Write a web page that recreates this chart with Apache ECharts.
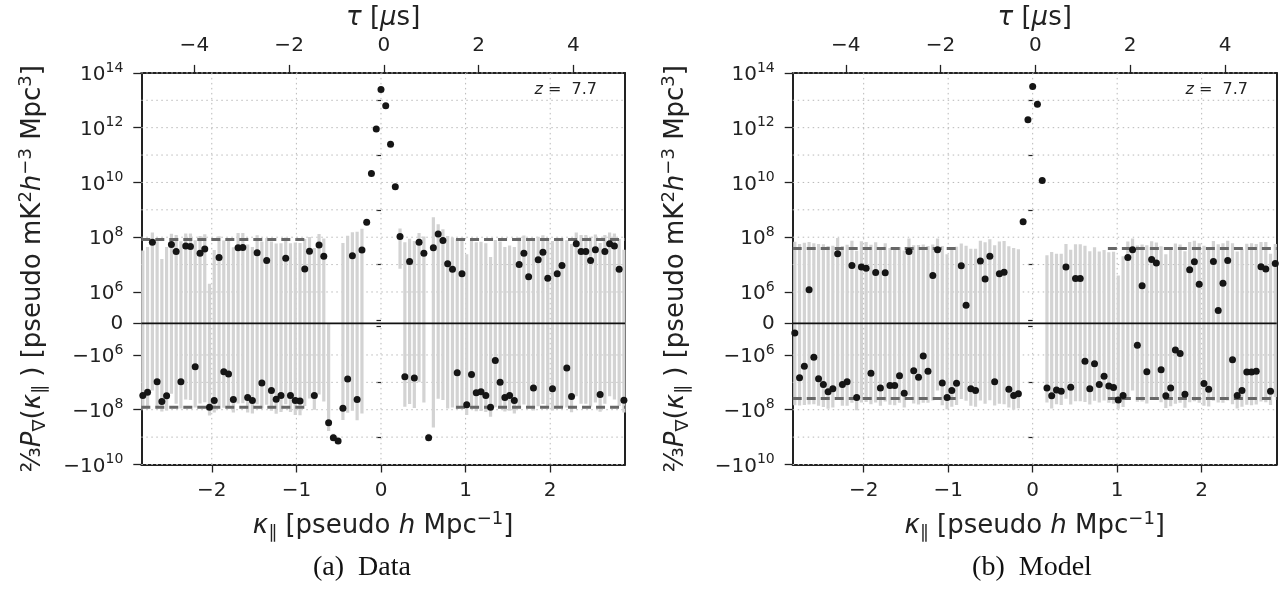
<!DOCTYPE html>
<html><head><meta charset="utf-8">
<script src="https://cdn.jsdelivr.net/npm/echarts@6/dist/echarts.min.js"></script>
<style>html,body{margin:0;padding:0;background:#fff}#c{width:1287px;height:593px}</style>
</head><body><div id="c"></div>
<script>
// ---------- data ----------
// bin centres kappa_parallel [pseudo h Mpc^-1]
const kappa = [-2.815,-2.759,-2.702,-2.646,-2.590,-2.534,-2.477,-2.421,-2.365,-2.308,
-2.252,-2.196,-2.139,-2.083,-2.027,-1.971,-1.914,-1.858,-1.802,-1.745,
-1.689,-1.633,-1.576,-1.520,-1.464,-1.408,-1.351,-1.295,-1.239,-1.182,
-1.126,-1.070,-1.013,-0.957,-0.901,-0.845,-0.788,-0.732,-0.676,-0.619,
-0.563,-0.507,-0.450,-0.394,-0.338,-0.282,-0.225,-0.169,-0.113,-0.056,
0,0.056,0.113,0.169,0.225,0.282,0.338,0.394,0.450,0.507,
0.563,0.619,0.676,0.732,0.788,0.845,0.901,0.957,1.013,1.070,
1.126,1.182,1.239,1.295,1.351,1.408,1.464,1.520,1.576,1.633,
1.689,1.745,1.802,1.858,1.914,1.971,2.027,2.083,2.139,2.196,
2.252,2.308,2.365,2.421,2.477,2.534,2.590,2.646,2.702,2.759,
2.815,2.871];

// (a) Data: power values and error half-widths
const powerData = [-3.0e7,-2.3e7,6.5e7,-9.5e6,-5.0e7,-3.1e7,5.4e7,3.0e7,-9.5e6,4.8e7,
4.6e7,-2.7e6,2.6e7,3.7e7,-8.1e7,-4.6e7,1.8e7,-4.1e6,-5.0e6,-4.2e7,
4.1e7,4.2e7,-3.6e7,-4.6e7,2.7e7,-1.05e7,1.4e7,-2.0e7,-4.1e7,-3.0e7,
1.7e7,-3.0e7,-4.6e7,-4.8e7,6.9e6,3.1e7,-3.0e7,5.2e7,2.0e7,-3.0e8,
-1.05e9,-1.4e9,-8.9e7,-7.6e6,2.1e7,-4.2e7,3.4e7,3.5e8,2.1e10,8.9e11,
2.5e13,6.3e12,2.5e11,6.9e9,1.07e8,-6.2e6,1.3e7,-6.9e6,6.6e7,2.6e7,
-1.05e9,4.1e7,1.3e8,7.6e7,1.07e7,6.8e6,-4.5e6,4.6e6,-6.6e7,-5.2e6,
-2.4e7,-2.2e7,-3.0e7,-8.1e7,-1.6e6,-1.0e7,-3.6e7,-3.0e7,-4.6e7,1.0e7,
2.6e7,3.6e6,-1.6e7,1.5e7,2.8e7,3.2e6,-1.7e7,4.6e6,9.3e6,-3.0e6,
-3.3e7,5.8e7,3.0e7,3.0e7,1.4e7,3.5e7,-2.8e7,3.0e7,5.8e7,4.8e7,
6.8e6,-4.5e7];
const errData = [6.3e7,6.7e7,8.5e7,8e7,6.6e7,7.5e7,8e7,9e7,8e7,9e7,
9e7,8e7,8.5e7,9e7,8.3e7,8e7,9e7,8e7,8e7,8.5e7,
1.0e8,1.0e8,9e7,9e7,9e7,8e7,8e7,9e7,1.0e8,9e7,
8e7,9e7,1.1e8,1.1e8,8e7,7e7,7e7,8e7,7e7,3.0e8,
3.0e8,3.0e8,1.5e8,1.2e8,1.3e8,2.0e8,1.7e8,8e7,5e8,1e9,
1e9,1e9,5e8,1e8,1e8,7.2e7,7.5e7,8e7,7.6e7,8e7,
3.0e8,4.9e8,1.7e8,1.2e8,1.0e8,9e7,9e7,9e7,9e7,9e7,
9e7,9e7,9e7,1.0e8,8e7,8e7,8e7,8e7,9e7,9e7,
9e7,9e7,9e7,9e7,9e7,9e7,9e7,9e7,8.5e7,8e7,
9e7,9e7,9e7,9e7,9e7,9e7,9e7,9e7,9e7,9e7,
8e7,8e7];

// (b) Model
const powerModel = [-3.0e5,-6.8e6,-2.6e6,1.2e6,-1.2e6,-7.4e6,-1.2e7,-2.2e7,-1.7e7,2.5e7,
-1.2e7,-9.5e6,9.3e6,-3.6e7,8.1e6,7.4e6,-4.7e6,5.1e6,-1.6e7,5.0e6,
-1.3e7,-1.3e7,-5.8e6,-2.5e7,3.0e7,-3.8e6,-6.5e6,-1.1e6,-3.9e6,4.0e6,
3.5e7,-1.05e7,-3.6e7,-2.0e7,-1.07e7,9.1e6,5.8e5,-1.7e7,-2.0e7,1.35e7,
3.0e6,2.0e7,-9.5e6,4.6e6,5.2e6,-1.8e7,-3.0e7,-2.6e7,3.7e8,1.95e12,
3.2e13,7.1e12,1.17e10,-1.6e7,-3.1e7,-1.9e7,-2.1e7,8.1e6,-1.5e7,3.1e6,
3.1e6,-1.7e6,-1.7e7,-2.1e6,-1.2e7,-6.0e6,-1.35e7,-1.55e7,-4.4e7,-3.0e7,
1.8e7,3.5e7,-6.9e5,1.7e6,-4.1e6,1.55e7,1.15e7,-3.5e6,-3.1e7,-1.6e7,
-8.4e5,-9.5e5,-2.7e7,6.5e6,1.26e7,1.9e6,-1.1e7,-1.8e7,1.3e7,4.1e5,
2.1e6,1.4e7,-1.5e6,-3.0e7,-2.0e7,-4.2e6,-4.2e6,-3.9e6,8.3e6,6.9e6,
-2.1e7,1.1e7];
const errModel = [6.8e7,6.3e7,6.5e7,6.6e7,6.2e7,6.4e7,6.7e7,7.0e7,6.6e7,6.8e7,
6.0e7,6.2e7,6.5e7,6.8e7,6.3e7,6.0e7,5.8e7,6.0e7,5.6e7,5.5e7,
5.3e7,5.5e7,5.0e7,5.8e7,6.0e7,5.5e7,5.8e7,5.5e7,5.2e7,5.0e7,
5.5e7,5.8e7,6.0e7,5.8e7,5.6e7,5.0e7,4.8e7,5.5e7,5.8e7,6.0e7,
6.3e7,6.5e7,6.0e7,6.5e7,6.8e7,6.5e7,7.0e7,6.2e7,5e7,5e7,
5e7,5e7,5e7,3.8e7,6.0e7,4.4e7,4.6e7,4.8e7,5.0e7,5.2e7,
5.2e7,5.0e7,4.8e7,4.5e7,4.2e7,4.0e7,4.2e7,4.5e7,4.8e7,5.0e7,
5.2e7,5.5e7,5.0e7,5.2e7,5.5e7,5.5e7,5.2e7,5.0e7,5.5e7,5.8e7,
6.0e7,5.5e7,5.8e7,6.0e7,6.2e7,5.8e7,6.0e7,5.8e7,6.0e7,5.5e7,
5.8e7,6.0e7,6.2e7,6.0e7,5.8e7,6.2e7,6.4e7,6.0e7,5.8e7,6.0e7,
4.6e7,4.5e7];

// noise levels (dashed) and the kappa windows they cover
const noiseData = 8.2e7;
const noiseModel = 3.9e7;
const noiseWindowsData = [[-2.833,-0.855],[0.887,2.884]];
const noiseWindowsModel = [[-2.840,-0.860],[0.890,2.888]];

// axis ticks
const kappaTicks = [-2,-1,0,1,2];
const tauTicks = [-4,-2,0,2,4];
const yMajor = [1e14,1e12,1e10,1e8,1e6,0,-1e6,-1e8,-1e10];
const yMinor = [1e13,1e11,1e9,1e7,1e5,-1e5,-1e7,-1e9];
const yGrid = [1e14,1e13,1e12,1e11,1e10,1e9,1e8,1e7,1e6,-1e6,-1e7,-1e8,-1e9,-1e10];
const redshift = '7.7';

// ---------- symlog scale ----------
const LIN = 1e6, LIN_DEC = 1.15;
function T(v){ const a=Math.abs(v), s=v<0?-1:1; return a<=LIN ? s*a/LIN*LIN_DEC : s*(LIN_DEC+Math.log10(a/LIN)); }
const Y_MIN = T(-1e10), Y_MAX = T(1e14);
const yMajorT = yMajor.map(T), yMinorT = yMinor.map(T), yGridT = yGrid.map(T);

const FONT = 'DejaVu Sans';
const INK = '#222';
function numFmt(v){ return v<0 ? '\u2212'+(-v) : String(v); }
function yFmt(val){
  let j=0, best=1e9;
  yMajorT.forEach((t,k)=>{ const d=Math.abs(t-val); if(d<best){best=d;j=k;} });
  const v = yMajor[j];
  if(v===0) return '0';
  const e = Math.round(Math.log10(Math.abs(v)));
  return '{b|'+(v<0?'\u221210':'10')+'}{s|'+e+'}';
}
const TF = 26, TS = 18;
const richBase = {
  i:{fontStyle:'italic',fontSize:TF,fontFamily:FONT,color:INK,lineHeight:32,verticalAlign:'middle'},
  n:{fontSize:TF,fontFamily:FONT,color:INK,lineHeight:32,verticalAlign:'middle'},
  sup:{fontSize:TS,fontFamily:FONT,color:INK,lineHeight:18,verticalAlign:'top'},
  sub:{fontSize:TS,fontFamily:FONT,color:INK,lineHeight:18,verticalAlign:'bottom'}
};

const panels = [
  {left:141.3, width:483.7, k:[-2.833,2.884], t:[-5.12,5.09], p:powerData, e:errData,
   noise:noiseData, win:noiseWindowsData, zRight:597, capX:362, cap:'(a)  Data', yGap:92},
  {left:792.7, width:484, k:[-2.840,2.888], t:[-5.12,5.09], p:powerModel, e:errModel,
   noise:noiseModel, win:noiseWindowsModel, zRight:1248, capX:1032, cap:'(b)  Model', yGap:100}
];

const option = {animation:false, backgroundColor:'#fff', grid:[], xAxis:[], yAxis:[], series:[], graphic:[]};

panels.forEach((P, gi) => {
  option.grid.push({left:P.left, top:69.5, width:P.width, height:395});
  const xi = option.xAxis.length;
  option.xAxis.push({
    gridIndex:gi, type:'value', position:'bottom', min:P.k[0], max:P.k[1],
    axisLine:{show:true,onZero:false,lineStyle:{color:INK,width:2}},
    axisTick:{show:true,length:8,customValues:kappaTicks,lineStyle:{color:INK,width:1.3}},
    axisLabel:{customValues:kappaTicks,formatter:numFmt,fontSize:20,fontFamily:FONT,color:INK,margin:16},
    splitLine:{show:false},
    name:'{i|\u03ba}{sub|\u2225}{n| [pseudo }{i|h}{n| Mpc}{sup|\u22121}{n|]}',
    nameLocation:'middle', nameGap:46,
    nameTextStyle:{fontSize:TF,fontFamily:FONT,color:INK,rich:richBase}
  });
  option.xAxis.push({
    gridIndex:gi, type:'value', position:'top', min:P.t[0], max:P.t[1],
    axisLine:{show:true,onZero:false,lineStyle:{color:INK,width:2}},
    axisTick:{show:true,length:8,customValues:tauTicks,lineStyle:{color:INK,width:1.3}},
    axisLabel:{customValues:tauTicks,formatter:numFmt,fontSize:20,fontFamily:FONT,color:INK,margin:17},
    splitLine:{show:false},
    name:'{i|\u03c4}{n| [}{i|\u03bc}{n|s]}', nameLocation:'middle', nameGap:37,
    nameTextStyle:{fontSize:TF,fontFamily:FONT,color:INK,rich:richBase}
  });
  const yi = option.yAxis.length;
  option.yAxis.push({
    gridIndex:gi, type:'value', position:'left', min:Y_MIN, max:Y_MAX,
    axisLine:{show:true,onZero:false,lineStyle:{color:INK,width:2}},
    axisTick:{show:true,length:8,customValues:yMajorT,lineStyle:{color:INK,width:1.3}},
    axisLabel:{customValues:yMajorT,formatter:yFmt,fontSize:20,fontFamily:FONT,color:INK,margin:18,
      rich:{b:{fontSize:20,fontFamily:FONT,color:INK,lineHeight:24,verticalAlign:'bottom'},
            s:{fontSize:14,fontFamily:FONT,color:INK,lineHeight:14,verticalAlign:'top'}}},
    splitLine:{show:false},
    name:'{n|\u2154}{i|P}{sub|\u2207}{n|(}{i|\u03ba}{sub|\u2225}{n| ) [pseudo mK}{sup|2}{i|h}{sup|\u22123}{n| Mpc}{sup|3}{n|]}',
    nameLocation:'middle', nameRotate:90, nameGap:P.yGap,
    nameTextStyle:{fontSize:TF,fontFamily:FONT,color:INK,rich:richBase}
  });
  option.yAxis.push({
    gridIndex:gi, type:'value', position:'left', min:Y_MIN, max:Y_MAX,
    axisLine:{show:false}, axisLabel:{show:false}, splitLine:{show:false},
    axisTick:{show:true,length:4.5,customValues:yMinorT,lineStyle:{color:INK,width:1.2}}
  });
  option.yAxis.push({
    gridIndex:gi, type:'value', position:'right', min:Y_MIN, max:Y_MAX,
    axisLine:{show:true,onZero:false,lineStyle:{color:INK,width:2}},
    axisTick:{show:false}, axisLabel:{show:false}, splitLine:{show:false}
  });

  // dotted grid lines
  option.series.push({
    type:'custom', xAxisIndex:xi, yAxisIndex:yi, z:1, silent:true,
    data: yGridT.map(t => [P.k[0], t]),
    renderItem:(params, api) => {
      const cs = params.coordSys; const y = api.coord([api.value(0), api.value(1)])[1];
      return {type:'line', shape:{x1:cs.x, y1:y, x2:cs.x+cs.width, y2:y},
        style:{stroke:'#b8b8b8', lineWidth:1, lineDash:[1.5,3.5]}};
    }
  });
  option.series.push({
    type:'custom', xAxisIndex:xi, yAxisIndex:yi, z:1, silent:true,
    data: kappaTicks.map(k => [k, Y_MIN]),
    renderItem:(params, api) => {
      const cs = params.coordSys; const x = api.coord([api.value(0), api.value(1)])[0];
      return {type:'line', shape:{x1:x, y1:cs.y, x2:x, y2:cs.y+cs.height},
        style:{stroke:'#b8b8b8', lineWidth:1, lineDash:[1.5,3.5]}};
    }
  });
  // error bars
  option.series.push({
    type:'custom', xAxisIndex:xi, yAxisIndex:yi, z:2, silent:true, clip:true,
    encode:{x:0, y:[1,2]},
    data: kappa.map((k,i) => [k, T(P.p[i]-P.e[i]), T(P.p[i]+P.e[i])]),
    renderItem:(params, api) => {
      const a = api.coord([api.value(0), api.value(1)]);
      const b = api.coord([api.value(0), api.value(2)]);
      const cs = params.coordSys;
      const top = Math.max(b[1], cs.y), bot = Math.min(a[1], cs.y+cs.height);
      if (bot <= top) return null;
      return {type:'rect', shape:{x:a[0]-1.6, y:top, width:3.2, height:bot-top},
        style:{fill:'#d3d3d3'}};
    }
  });
  // noise level dashed lines
  const noiseSegs = [];
  P.win.forEach(w => { noiseSegs.push([w[0], w[1], T(P.noise)]); noiseSegs.push([w[0], w[1], T(-P.noise)]); });
  option.series.push({
    type:'custom', xAxisIndex:xi, yAxisIndex:yi, z:3, silent:true,
    encode:{x:[0,1], y:2},
    data: noiseSegs,
    renderItem:(params, api) => {
      const a = api.coord([api.value(0), api.value(2)]);
      const b = api.coord([api.value(1), api.value(2)]);
      return {type:'line', shape:{x1:a[0], y1:a[1], x2:b[0], y2:b[1]},
        style:{stroke:'#676767', lineWidth:3, lineDash:[9,5]}};
    }
  });
  // zero line
  option.series.push({
    type:'line', xAxisIndex:xi, yAxisIndex:yi, z:4, silent:true, symbol:'none',
    data:[[P.k[0], T(0)], [P.k[1], T(0)]],
    lineStyle:{color:'#111', width:1.8}
  });
  // points
  option.series.push({
    type:'scatter', xAxisIndex:xi, yAxisIndex:yi, z:5, symbol:'circle', symbolSize:7,
    data: kappa.map((k,i) => [k, T(P.p[i])]),
    itemStyle:{color:'#151515', opacity:1}
  });

  option.graphic.push({
    type:'text', x:P.zRight, y:90, z:10,
    style:{text:'{i|z} =  '+redshift, align:'right', verticalAlign:'middle',
      font:'16px "DejaVu Sans"', fill:INK,
      rich:{i:{fontStyle:'italic', fontSize:16, fontFamily:FONT, fill:INK}}}
  });
  option.graphic.push({
    type:'text', x:P.capX, y:568, z:10,
    style:{text:P.cap, align:'center', verticalAlign:'middle',
      font:'28px "Liberation Serif"', fill:'#111'}
  });
});

const chart = echarts.init(document.getElementById('c'), null, {renderer:'canvas'});
chart.setOption(option);
</script></body></html>
